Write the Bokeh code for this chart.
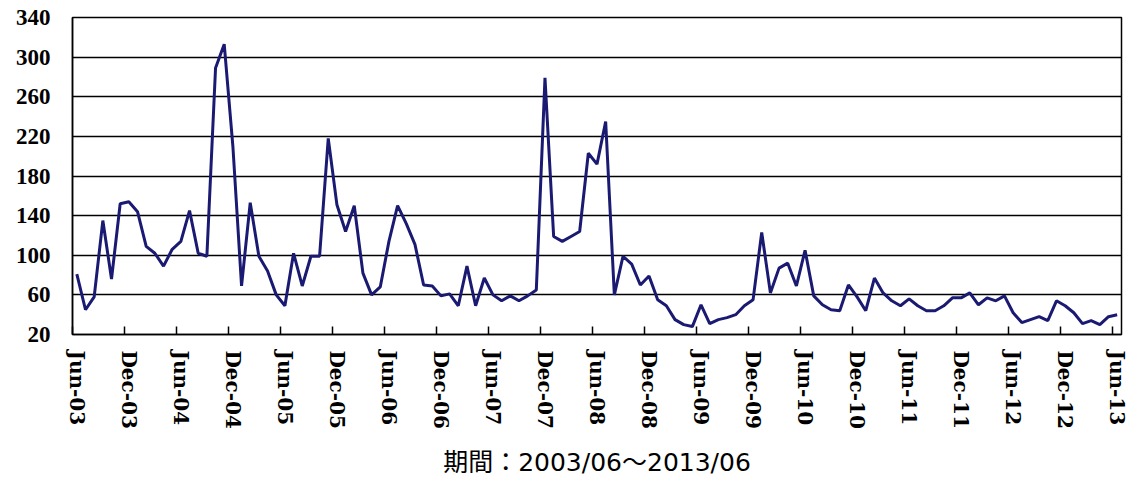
from bokeh.plotting import figure
from bokeh.models import Range1d, FixedTicker
from bokeh.embed import file_html
from bokeh.resources import INLINE

# Monthly values, Jun-2003 .. Jun-2013 (121 months)
values = [
    81, 45, 58, 135, 76, 152, 154, 144, 109, 102, 89, 106,
    114, 145, 102, 99, 289, 313, 210, 69, 153, 99, 84, 60,
    49, 102, 69, 99, 99, 218, 151, 124, 150, 82, 60, 68,
    114, 150, 132, 111, 70, 69, 59, 61, 49, 89, 49, 77,
    60, 54, 59, 54, 59, 65, 279, 119, 114, 119, 124, 203,
    192, 235, 60, 99, 91, 70, 79, 55, 49, 35, 30, 28,
    50, 31, 35, 37, 40, 49, 55, 123, 62, 87, 92, 69,
    105, 59, 50, 45, 44, 70, 58, 44, 77, 62, 54, 49,
    56, 49, 44, 44, 49, 57, 57, 62, 50, 57, 54, 59,
    42, 32, 35, 38, 34, 54, 49, 42, 31, 34, 30, 38,
    40,
]
tick_labels = [
    "Jun-03", "Dec-03", "Jun-04", "Dec-04", "Jun-05", "Dec-05", "Jun-06",
    "Dec-06", "Jun-07", "Dec-07", "Jun-08", "Dec-08", "Jun-09", "Dec-09",
    "Jun-10", "Dec-10", "Jun-11", "Dec-11", "Jun-12", "Dec-12", "Jun-13",
]
y_ticks = [20, 60, 100, 140, 180, 220, 260, 300, 340]
period_label = "期間：2003/06～2013/06"

months = list(range(len(values)))
label_pos = [6 * k for k in range(len(tick_labels))]
boundary_pos = [p - 0.5 for p in label_pos]

p = figure(width=1128, height=480, output_backend="svg", toolbar_location=None,
           x_range=Range1d(-0.5, len(values) - 0.5), y_range=Range1d(20, 340),
           min_border_left=72, min_border_right=7, min_border_top=17,
           min_border_bottom=146)

p.line(months, values, line_color="#1a1a72", line_width=3)

p.outline_line_color = "black"
p.outline_line_width = 1.5
p.xgrid.grid_line_color = None
p.ygrid.grid_line_color = "black"
p.ygrid.grid_line_width = 1.5

xa = p.xaxis[0]
xa.ticker = FixedTicker(ticks=label_pos, minor_ticks=boundary_pos)
xa.major_label_overrides = {pos: lab for pos, lab in zip(label_pos, tick_labels)}
xa.major_label_orientation = "vertical"
xa.major_label_text_font = "DejaVu Serif"
xa.major_label_text_font_style = "bold"
xa.major_label_text_font_size = "20px"
xa.major_label_text_color = "black"
xa.major_label_standoff = 16
xa.major_tick_in = 0
xa.major_tick_out = 0
xa.minor_tick_in = 8
xa.minor_tick_out = 0
xa.minor_tick_line_color = "black"
xa.minor_tick_line_width = 1.5
xa.axis_line_color = "black"
xa.axis_line_width = 1.5
xa.axis_label = period_label
xa.axis_label_text_font = "DejaVu Sans, Noto Sans CJK JP"
xa.axis_label_text_font_style = "normal"
xa.axis_label_text_font_size = "25px"
xa.axis_label_text_color = "black"
xa.axis_label_standoff = 16

ya = p.yaxis[0]
ya.ticker = FixedTicker(ticks=y_ticks)
ya.major_label_text_font = "Liberation Serif"
ya.major_label_text_font_style = "bold"
ya.major_label_text_font_size = "23px"
ya.major_label_text_color = "black"
ya.major_label_standoff = 22
ya.major_tick_in = 0
ya.major_tick_out = 0
ya.minor_tick_line_color = None
ya.axis_line_color = "black"
ya.axis_line_width = 1.5

open("out.html", "w").write(file_html(p, INLINE))
